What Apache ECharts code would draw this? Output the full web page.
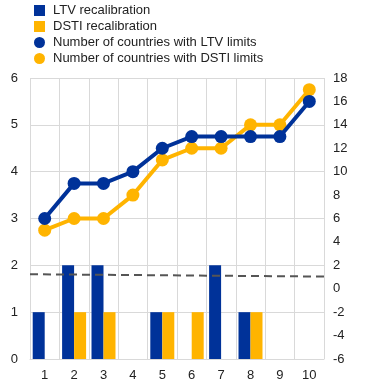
<!DOCTYPE html>
<html><head><meta charset="utf-8">
<script src="https://cdn.jsdelivr.net/npm/echarts@6/dist/echarts.min.js"></script>
<style>html,body{margin:0;padding:0;background:#fff}#c{width:371px;height:387px}</style>
</head><body><div id="c"></div>
<script>
const categories = ['1','2','3','4','5','6','7','8','9','10'];
const ltvRecal = [1,2,2,0,1,0,2,1,0,0];
const dstiRecal = [0,1,1,0,1,1,0,1,0,0];
const ltvCountries = [6,9,9,10,12,13,13,13,13,16];
const dstiCountries = [5,6,6,8,11,12,12,14,14,17];
const dashedRef = [[0,1.81],[1,1.76]];
const leftTicks = [0,6,1];
const rightTicks = [-6,18,2];

const F = 'Liberation Sans, Arial, sans-serif';
const BLUE = '#003299', YEL = '#FFB400', GRID = '#d9d9d9', TXT = '#222';
const chart = echarts.init(document.getElementById('c'));
chart.setOption({
  animation:false,
  textStyle:{fontFamily:F},
  legend:{
    orient:'vertical', left:29, top:3, itemGap:3, itemWidth:11, itemHeight:11, padding:[1,5,5,5],
    textStyle:{fontFamily:F,fontSize:13,lineHeight:11,color:TXT,padding:[0,0,0,3]},
    data:[
      {name:'LTV recalibration',icon:'rect'},
      {name:'DSTI recalibration',icon:'rect'},
      {name:'Number of countries with LTV limits',icon:'circle'},
      {name:'Number of countries with DSTI limits',icon:'circle'}
    ]
  },
  grid:{left:30,right:47,top:78,bottom:28,containLabel:false},
  xAxis:[{
    type:'category', data:categories, boundaryGap:true,
    axisLine:{show:true,lineStyle:{color:GRID}},
    axisTick:{show:false},
    splitLine:{show:true,lineStyle:{color:GRID,width:1}},
    axisLabel:{fontFamily:F,fontSize:13,color:TXT,margin:10}
  },{
    type:'value', min:0, max:1, show:false
  }],
  yAxis:[{
    type:'value', min:leftTicks[0], max:leftTicks[1], interval:leftTicks[2],
    axisLine:{show:false}, axisTick:{show:false},
    splitLine:{show:true,lineStyle:{color:GRID,width:1}},
    axisLabel:{fontFamily:F,fontSize:13,color:TXT,margin:12}
  },{
    type:'value', min:rightTicks[0], max:rightTicks[1], interval:rightTicks[2],
    axisLine:{show:false}, axisTick:{show:false}, splitLine:{show:false},
    axisLabel:{fontFamily:F,fontSize:13,color:TXT,margin:9}
  }],
  series:[
    {name:'LTV recalibration',type:'bar',data:ltvRecal,barWidth:12,barGap:'0%',itemStyle:{color:BLUE},xAxisIndex:0,yAxisIndex:0},
    {name:'DSTI recalibration',type:'bar',data:dstiRecal,barWidth:12,barGap:'0%',itemStyle:{color:YEL},xAxisIndex:0,yAxisIndex:0},
    {name:'Number of countries with LTV limits',type:'line',data:ltvCountries,yAxisIndex:1,xAxisIndex:0,
      symbol:'circle',symbolSize:13,lineStyle:{color:BLUE,width:4},itemStyle:{color:BLUE},z:4},
    {name:'Number of countries with DSTI limits',type:'line',data:dstiCountries,yAxisIndex:1,xAxisIndex:0,
      symbol:'circle',symbolSize:13,lineStyle:{color:YEL,width:4},itemStyle:{color:YEL},z:3},
    {name:'ref',type:'line',data:dashedRef,xAxisIndex:1,yAxisIndex:0,symbol:'none',
      lineStyle:{color:'#555',width:2,type:[8,5]},z:5,silent:true}
  ]
});
</script></body></html>
